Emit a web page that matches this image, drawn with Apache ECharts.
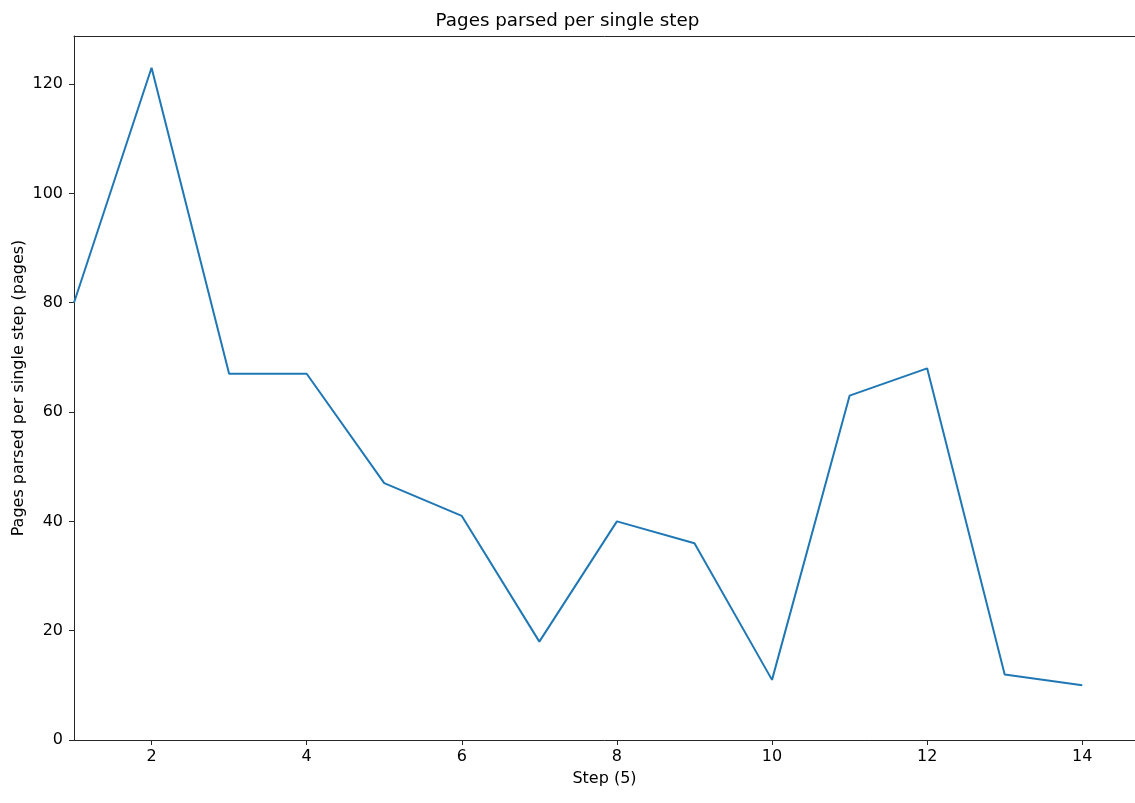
<!DOCTYPE html>
<html>
<head>
<meta charset="utf-8">
<script src="https://cdn.jsdelivr.net/npm/echarts@6/dist/echarts.min.js"></script>
<style>
  html, body { margin: 0; padding: 0; background: #fff; }
  #chart { width: 1135px; height: 803px; }
</style>
</head>
<body>
<div id="chart"></div>
<script>
// Pages parsed at each step
const steps = [1, 2, 3, 4, 5, 6, 7, 8, 9, 10, 11, 12, 13, 14];
const pages = [80, 123, 67, 67, 47, 41, 18, 40, 36, 11, 63, 68, 12, 10];
const xTicks = [2, 4, 6, 8, 10, 12, 14];
const yTicks = [0, 20, 40, 60, 80, 100, 120];

const FONT = 'DejaVu Sans';
const AXIS_COLOR = '#262626';

const chart = echarts.init(document.getElementById('chart'), null, { renderer: 'canvas' });

chart.setOption({
  animation: false,
  backgroundColor: '#ffffff',
  textStyle: { fontFamily: FONT },
  title: {
    text: 'Pages parsed per single step',
    left: 'center',
    top: 7,
    textStyle: { fontFamily: FONT, fontSize: 18.3, fontWeight: 'normal', color: '#000' }
  },
  grid: { left: 74, top: 36, right: 0, bottom: 63, containLabel: false, outerBoundsMode: 'none' },
  xAxis: [
    {
      type: 'value',
      min: 1,
      max: 14.68,
      name: 'Step (5)',
      nameLocation: 'middle',
      nameGap: 31,
      nameMoveOverlap: false,
      nameTextStyle: { fontFamily: FONT, fontSize: 16, color: '#000' },
      axisLine: { show: true, onZero: false, lineStyle: { color: AXIS_COLOR, width: 1 } },
      axisTick: { show: true, length: 5, customValues: xTicks, lineStyle: { color: AXIS_COLOR } },
      axisLabel: { customValues: xTicks, fontFamily: FONT, fontSize: 16, color: '#000', margin: 9 },
      splitLine: { show: false }
    },
    {
      type: 'value',
      position: 'top',
      min: 1,
      max: 14.68,
      axisLine: { show: true, onZero: false, lineStyle: { color: AXIS_COLOR, width: 1 } },
      axisTick: { show: false },
      axisLabel: { show: false },
      splitLine: { show: false }
    }
  ],
  yAxis: {
    type: 'value',
    min: 0,
    max: 128.8,
    name: 'Pages parsed per single step (pages)',
    nameLocation: 'middle',
    nameGap: 47,
    nameMoveOverlap: false,
    nameTextStyle: { fontFamily: FONT, fontSize: 16, color: '#000' },
    axisLine: { show: true, onZero: false, lineStyle: { color: AXIS_COLOR, width: 1 } },
    axisTick: { show: true, length: 5, customValues: yTicks, lineStyle: { color: AXIS_COLOR } },
    axisLabel: { customValues: yTicks, fontFamily: FONT, fontSize: 16, color: '#000', margin: 11 },
    splitLine: { show: false }
  },
  series: [{
    type: 'line',
    xAxisIndex: 0,
    data: steps.map((s, i) => [s, pages[i]]),
    showSymbol: false,
    lineStyle: { color: '#1f77b4', width: 2 },
    clip: true
  }]
});
</script>
</body>
</html>
